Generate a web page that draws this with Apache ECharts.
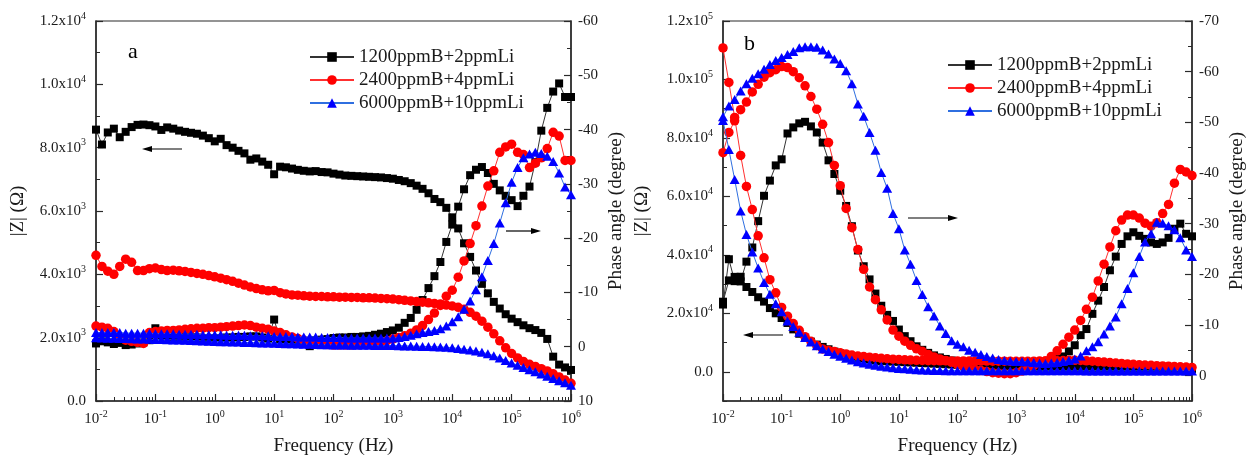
<!DOCTYPE html>
<html><head><meta charset="utf-8">
<script src="https://cdn.jsdelivr.net/npm/echarts@6/dist/echarts.min.js"></script>
<style>html,body{margin:0;padding:0;background:#fff}#c{width:1248px;height:461px}</style>
</head><body><div id="c"></div>
<script>
const freq = [
0.01,0.0126,0.0158,0.02,0.0251,0.0316,0.0398,0.0501,0.0631,0.0794,
0.1,0.126,0.158,0.2,0.251,0.316,0.398,0.501,0.631,0.794,
1,1.26,1.58,2,2.51,3.16,3.98,5.01,6.31,7.94,
10,12.6,15.8,20,25.1,31.6,39.8,50.1,63.1,79.4,
100,126,158,200,251,316,398,501,631,794,
1000,1260,1580,2000,2510,3160,3980,5010,6310,7940,
10000,12600,15800,20000,25100,31600,39800,50100,63100,79400,
100000,126000,158000,200000,251000,316000,398000,501000,631000,794000,
1000000];
const seriesNames = ['1200ppmB+2ppmLi','2400ppmB+4ppmLi','6000ppmB+10ppmLi'];

// Panel a
const zA_black = [8570,8100,8480,8600,8330,8500,8650,8720,8730,8710,
8670,8560,8640,8600,8540,8500,8470,8440,8380,8300,
8200,8280,8080,8000,7900,7820,7620,7660,7560,7460,
7160,7400,7380,7340,7300,7270,7250,7260,7230,7220,
7180,7150,7120,7110,7100,7090,7080,7070,7060,7040,
7020,6980,6940,6880,6800,6700,6560,6380,6280,6100,
5800,5450,4980,4550,4120,3700,3400,3130,2920,2740,
2600,2490,2390,2300,2240,2150,1960,1400,1150,1060,
980];
const pA_black = [-0.6,-1.0,-0.8,-0.5,-0.7,-0.3,-0.4,-0.6,-0.8,-1.2,
-3.4,-2.0,-1.9,-1.8,-1.8,-1.7,-1.7,-1.7,-1.6,-1.6,
-1.6,-1.6,-1.7,-1.7,-1.8,-1.8,-1.9,-1.9,-1.7,-1.5,
-5.0,-1.3,-1.2,-1.1,-1.0,-0.9,-0.1,-1.2,-1.3,-1.4,
-1.6,-1.7,-1.7,-1.8,-1.8,-1.9,-2.0,-2.2,-2.4,-2.7,
-3.0,-3.5,-4.4,-5.3,-6.8,-8.6,-10.8,-13.0,-15.6,-19.3,
-22.5,-25.8,-29.0,-31.6,-32.6,-33.1,-32.0,-30.0,-28.8,-27.8,
-27.0,-25.9,-27.8,-29.5,-34.0,-39.8,-44.0,-47.0,-48.5,-46.0,
-46.0];
const zA_red = [4600,4250,4100,4000,4250,4480,4380,4120,4120,4180,
4200,4150,4120,4130,4110,4090,4060,4030,4000,3960,
3920,3880,3830,3780,3720,3660,3600,3550,3510,3480,
3490,3420,3380,3350,3340,3320,3310,3300,3300,3290,
3290,3280,3280,3270,3270,3260,3260,3250,3240,3230,
3220,3200,3180,3160,3140,3120,3100,3080,3060,3030,
3000,2960,2900,2800,2680,2520,2330,2120,1900,1680,
1500,1360,1250,1160,1090,1020,950,860,760,660,
560];
const pA_red = [-3.8,-3.6,-3.4,-2.8,-1.6,-1.2,-1.0,-0.8,-0.6,-2.6,
-2.8,-2.9,-3.0,-3.0,-3.1,-3.2,-3.3,-3.4,-3.4,-3.5,
-3.5,-3.6,-3.7,-3.8,-3.9,-4.0,-3.9,-3.6,-3.4,-3.2,
-2.9,-2.6,-2.2,-1.8,-1.5,-1.2,-0.9,-0.7,-0.5,-0.4,
-0.3,-0.3,-0.3,-0.3,-0.4,-0.5,-0.6,-0.7,-0.9,-1.1,
-1.4,-1.7,-2.0,-2.5,-3.1,-3.9,-5.0,-6.2,-7.6,-9.3,
-10.4,-12.8,-15.8,-19.0,-22.3,-25.9,-29.6,-32.4,-35.8,-36.8,
-37.3,-35.8,-35.4,-33.0,-33.8,-34.8,-36.5,-39.5,-38.8,-34.3,
-34.3];
const zA_blue = [2000,1990,1985,1980,1975,1970,1965,1960,1955,1950,
1945,1940,1935,1930,1925,1920,1910,1905,1895,1890,
1880,1875,1870,1865,1860,1850,1845,1840,1835,1830,
1820,1815,1810,1805,1800,1795,1790,1785,1780,1775,
1770,1768,1766,1764,1762,1760,1758,1756,1754,1752,
1750,1745,1740,1735,1730,1725,1720,1715,1705,1695,
1680,1660,1635,1610,1580,1540,1490,1430,1360,1280,
1200,1130,1060,990,920,850,780,710,640,580,
500];
const pA_blue = [-2.6,-2.6,-2.6,-2.6,-2.6,-2.5,-2.5,-2.5,-2.5,-2.5,
-2.4,-2.4,-2.4,-2.4,-2.3,-2.3,-2.3,-2.3,-2.2,-2.2,
-2.2,-2.2,-2.1,-2.1,-2.1,-2.1,-2.0,-2.0,-2.0,-2.0,
-1.9,-1.9,-1.9,-1.9,-1.8,-1.8,-1.8,-1.8,-1.7,-1.7,
-1.7,-1.7,-1.6,-1.6,-1.6,-1.6,-1.6,-1.6,-1.6,-1.6,
-1.6,-1.7,-1.9,-2.1,-2.4,-2.6,-2.8,-3.0,-3.3,-3.8,
-4.6,-5.5,-6.9,-8.4,-10.5,-12.9,-15.9,-19.0,-22.8,-26.5,
-30.3,-33.0,-34.8,-35.5,-35.8,-35.6,-35.1,-34.1,-32.0,-29.4,
-28.0];

// Panel b
const zB_black = [23000,38500,31000,32500,29000,27300,25500,24000,21800,20000,
18400,16700,14500,13000,11600,10300,9300,8500,7700,6900,
6300,5600,5100,4700,4400,4100,3850,3700,3600,3500,
3400,3300,3200,3100,3000,2900,2800,2700,2600,2500,
2400,2300,2200,2100,2000,1950,1900,1850,1800,1750,
1700,1650,1600,1550,1500,1480,1460,1440,1420,1400,
1380,1360,1340,1320,1300,1280,1260,1240,1220,1200,
1180,1160,1140,1120,1100,1080,1060,1040,1020,1000,
980];
const pB_black = [-14.6,-18.8,-19.5,-18.6,-22.5,-25.3,-30.5,-35.5,-38.5,-41.5,
-42.7,-47.8,-49.0,-49.8,-50.1,-49.2,-48.0,-46.0,-42.5,-39.8,
-36.5,-33.5,-29.5,-24.7,-21.6,-19.0,-16.2,-13.8,-12.0,-10.8,
-9.1,-7.8,-6.8,-5.8,-5.1,-4.5,-4.0,-3.6,-3.3,-3.0,
-2.7,-2.4,-2.1,-1.9,-1.7,-1.5,-1.4,-1.2,-1.1,-1.0,
-1.0,-1.1,-1.2,-1.4,-1.7,-2.0,-2.6,-3.3,-3.8,-4.8,
-6.0,-8.0,-9.2,-12.2,-14.8,-17.5,-20.8,-23.5,-26.0,-27.5,
-28.3,-27.6,-27.0,-26.3,-26.0,-26.3,-27.2,-29.0,-30.0,-28.0,
-27.5];
const zB_red = [110800,99000,87000,74000,63400,55500,46500,39000,31500,27000,
22000,19000,16500,14200,12000,10400,9000,7800,7300,6900,
6500,6100,5700,5400,5200,5000,4800,4600,4450,4300,
4200,4100,4000,3900,3850,3800,3780,3760,3740,3720,
3700,3690,3680,3670,3660,3650,3640,3630,3620,3610,
3600,3600,3600,3620,3650,3700,3750,3800,3850,3900,
3900,3850,3750,3600,3450,3300,3150,3000,2850,2700,
2550,2400,2300,2200,2100,2000,1900,1800,1700,1600,
1500];
const pB_red = [-44.0,-48.0,-50.3,-52.5,-54.0,-56.0,-57.5,-58.9,-59.8,-60.4,
-61.0,-60.8,-60.0,-58.8,-57.2,-55.1,-52.6,-49.6,-46.0,-41.5,
-37.5,-33.0,-29.2,-24.9,-21.0,-17.5,-15.0,-13.0,-11.0,-9.0,
-7.8,-6.8,-6.0,-5.3,-4.8,-4.2,-3.7,-3.3,-3.0,-2.6,
-2.2,-1.8,-1.5,-1.2,-1.0,-0.8,-0.6,-0.5,-0.4,-0.4,
-0.6,-0.9,-1.4,-2.0,-2.5,-2.9,-3.8,-4.9,-6.2,-7.6,
-9.0,-10.9,-13.1,-15.5,-18.7,-22.0,-25.4,-28.6,-30.7,-31.7,
-31.7,-31.1,-30.1,-29.5,-30.2,-32.0,-33.8,-38.0,-40.7,-40.2,
-39.5];
const zB_blue = [86000,76000,65800,55000,47000,41000,35500,30500,26500,23300,
20500,17400,15500,13500,11700,10200,8900,7800,6900,6000,
5300,4600,4000,3450,3000,2600,2200,1900,1600,1350,
1150,1000,850,720,600,500,440,400,380,360,
350,345,340,340,335,335,330,330,330,325,
325,325,320,320,320,315,315,315,310,310,
310,310,305,305,305,300,300,300,300,300,
295,295,295,290,290,290,290,285,285,285,
280];
const pB_blue = [-51.1,-53.2,-54.5,-56.2,-57.6,-58.7,-59.6,-60.5,-61.4,-62.2,
-62.8,-63.4,-64.0,-64.7,-64.9,-64.9,-64.8,-64.3,-63.5,-62.5,
-61.6,-60.2,-57.6,-53.6,-51.2,-48.0,-44.5,-40.1,-37.0,-32.0,
-29.0,-24.8,-22.0,-18.8,-16.0,-13.6,-11.8,-9.8,-8.3,-6.9,
-6.2,-5.7,-5.0,-4.6,-4.2,-3.8,-3.5,-3.2,-3.0,-2.9,
-2.8,-2.8,-2.7,-2.6,-2.5,-2.4,-2.5,-2.6,-2.8,-3.0,
-3.3,-3.9,-4.9,-5.7,-6.7,-8.2,-9.8,-11.6,-14.2,-17.2,
-20.3,-23.5,-26.4,-28.0,-30.3,-30.1,-29.6,-28.8,-27.2,-24.8,
-23.5];

// Ticks and tick labels
const freqTicks = [0.01,0.1,1,10,100,1000,10000,100000,1000000];
const freqTickLabels = ['10^-2','10^-1','10^0','10^1','10^2','10^3','10^4','10^5','10^6'];
const zTicksA = [0,2000,4000,6000,8000,10000,12000];
const zTickLabelsA = ['0.0','2.0x10^3','4.0x10^3','6.0x10^3','8.0x10^3','1.0x10^4','1.2x10^4'];
const zMinorA = [1000,3000,5000,7000,9000,11000];
const phTicksA = [-60,-50,-40,-30,-20,-10,0,10];
const phTickLabelsA = ['-60','-50','-40','-30','-20','-10','0','10'];
const phMinorA = [-55,-45,-35,-25,-15,-5,5];
const zTicksB = [0,20000,40000,60000,80000,100000,120000];
const zTickLabelsB = ['0.0','2.0x10^4','4.0x10^4','6.0x10^4','8.0x10^4','1.0x10^5','1.2x10^5'];
const zMinorB = [-10000,10000,30000,50000,70000,90000,110000];
const phTicksB = [-70,-60,-50,-40,-30,-20,-10,0];
const phTickLabelsB = ['-70','-60','-50','-40','-30','-20','-10','0'];
const phMinorB = [-65,-55,-45,-35,-25,-15,-5];

const freqMinor = [];
for (let d = 0.01; d < 1e6; d *= 10) for (let m = 2; m <= 9; m++) freqMinor.push(+(m * d).toPrecision(3));

const FONT = 'Liberation Serif';
const TXT = '#1a1a1a';
const AX = '#2a2a2a';
const colors = ['#000000', '#ff0000', '#0000ff'];
const lineColors = ['#333333', '#ff3030', '#2f6fe0'];
const symbols = ['rect', 'circle', 'triangle'];
const symSizes = [8, 9.5, [10, 9]];

function rich(s) {
  const p = s.split('^');
  return p.length > 1 ? p[0] + '{sup|' + p[1] + '}' : s;
}
function fmt(ticks, labels) {
  return function (v) {
    for (let i = 0; i < ticks.length; i++) {
      const t = ticks[i];
      if (Math.abs(t - v) <= 1e-6 * Math.max(1e-9, Math.abs(t)) || Math.abs(t - v) < 1e-9) return rich(labels[i]);
    }
    return '';
  };
}
const richSup = { sup: { fontSize: 10, fontFamily: FONT, color: TXT, verticalAlign: 'top', lineHeight: 10 } };

function mainX(grid, name) {
  return {
    type: 'log', logBase: 10, gridIndex: grid, min: 0.01, max: 1e6, position: 'bottom',
    name: name, nameLocation: 'middle', nameGap: 36,
    nameTextStyle: { fontFamily: FONT, fontSize: 19, color: TXT },
    axisLine: { show: true, onZero: false, lineStyle: { color: AX, width: 1.5 } },
    axisTick: { show: true, inside: true, length: 7, customValues: freqTicks, lineStyle: { color: AX, width: 1.2 } },
    axisLabel: { show: true, customValues: freqTicks, formatter: fmt(freqTicks, freqTickLabels), margin: 8,
      fontFamily: FONT, fontSize: 15, color: TXT, lineHeight: 20, rich: richSup },
    splitLine: { show: false }, minorTick: { show: false }
  };
}
function minorX(grid) {
  return {
    type: 'log', logBase: 10, gridIndex: grid, min: 0.01, max: 1e6, position: 'bottom',
    axisLine: { show: false, onZero: false }, axisLabel: { show: false }, splitLine: { show: false },
    axisTick: { show: true, inside: true, length: 4, customValues: freqMinor, lineStyle: { color: AX, width: 1 } }
  };
}
function mainY(grid, pos, min, max, ticks, labels, name, inverse, gap) {
  return {
    type: 'value', gridIndex: grid, position: pos, min: min, max: max, inverse: inverse,
    name: name, nameLocation: 'middle', nameGap: gap,
    nameTextStyle: { fontFamily: FONT, fontSize: 19, color: TXT },
    axisLine: { show: true, onZero: false, lineStyle: { color: AX, width: 1.5 } },
    axisTick: { show: true, inside: true, length: 7, customValues: ticks, lineStyle: { color: AX, width: 1.2 } },
    axisLabel: { show: true, customValues: ticks, formatter: fmt(ticks, labels), margin: pos === 'left' ? 10 : 7,
      fontFamily: FONT, fontSize: 15, color: TXT, lineHeight: 20, rich: richSup },
    splitLine: { show: false }
  };
}
function minorY(grid, pos, min, max, ticks, inverse) {
  return {
    type: 'value', gridIndex: grid, position: pos, min: min, max: max, inverse: inverse,
    axisLine: { show: false, onZero: false }, axisLabel: { show: false }, splitLine: { show: false },
    axisTick: { show: true, inside: true, length: 4, customValues: ticks, lineStyle: { color: AX, width: 1 } }
  };
}
function mk(i, xi, yi, arr) {
  return {
    type: 'line', name: seriesNames[i], xAxisIndex: xi, yAxisIndex: yi,
    data: freq.map((f, k) => [f, arr[k]]),
    symbol: symbols[i], symbolSize: symSizes[i], showAllSymbol: true, showSymbol: true,
    itemStyle: { color: colors[i] },
    lineStyle: { color: lineColors[i], width: 1 },
    emphasis: { disabled: true }, animation: false, z: 2 + i
  };
}
function arrow(x1, x2, y) {
  const dir = x2 > x1 ? 1 : -1;
  return [
    { type: 'line', shape: { x1: x1, y1: y, x2: x2 - dir * 6, y2: y }, style: { stroke: '#000', lineWidth: 1.2 }, z: 100 },
    { type: 'polygon', shape: { points: [[x2, y], [x2 - dir * 10, y - 3], [x2 - dir * 10, y + 3]] }, style: { fill: '#000' }, z: 100 }
  ];
}

const chart = echarts.init(document.getElementById('c'), null, { renderer: 'canvas' });
const legendBase = {
  orient: 'vertical', align: 'left', data: seriesNames, itemWidth: 44, itemHeight: 12, itemGap: 1,
  textStyle: { fontFamily: FONT, fontSize: 19, color: TXT, lineHeight: 22 }, selectedMode: false
};
chart.setOption({
  animation: false,
  backgroundColor: '#fff',
  grid: [
    { left: 96, top: 21, width: 475, height: 382, show: true, borderColor: AX, borderWidth: 1.2, backgroundColor: 'transparent' },
    { left: 723, top: 21, width: 474, height: 382, show: true, borderColor: AX, borderWidth: 1.2, backgroundColor: 'transparent' }
  ],
  legend: [
    Object.assign({}, legendBase, { left: 304, top: 41 }),
    Object.assign({}, legendBase, { left: 942, top: 49 })
  ],
  xAxis: [mainX(0, 'Frequency (Hz)'), minorX(0), mainX(1, 'Frequency (Hz)'), minorX(1)],
  yAxis: [
    mainY(0, 'left', 0, 12000, zTicksA, zTickLabelsA, '|Z| (Ω)', false, 68),
    mainY(0, 'right', -60, 10, phTicksA, phTickLabelsA, 'Phase angle (degree)', true, 36),
    minorY(0, 'left', 0, 12000, zMinorA, false),
    minorY(0, 'right', -60, 10, phMinorA, true),
    mainY(1, 'left', -10000, 120000, zTicksB, zTickLabelsB, '|Z| (Ω)', false, 71),
    mainY(1, 'right', -70, 5, phTicksB, phTickLabelsB, 'Phase angle (degree)', true, 36),
    minorY(1, 'left', -10000, 120000, zMinorB, false),
    minorY(1, 'right', -70, 5, phMinorB, true)
  ],
  series: [
    mk(0, 0, 0, zA_black), mk(0, 0, 1, pA_black),
    mk(1, 0, 0, zA_red), mk(1, 0, 1, pA_red),
    mk(2, 0, 0, zA_blue), mk(2, 0, 1, pA_blue),
    mk(0, 2, 4, zB_black), mk(0, 2, 5, pB_black),
    mk(1, 2, 4, zB_red), mk(1, 2, 5, pB_red),
    mk(2, 2, 4, zB_blue), mk(2, 2, 5, pB_blue)
  ],
  graphic: [
    { type: 'text', left: 128, top: 41, style: { text: 'a', font: '22px "Liberation Serif"', fill: '#000' }, z: 100 },
    { type: 'text', left: 744, top: 33, style: { text: 'b', font: '22px "Liberation Serif"', fill: '#000' }, z: 100 }
  ].concat(arrow(182, 142, 149), arrow(506, 541, 231), arrow(908, 958, 218), arrow(783, 743, 335))
});
</script>
</body></html>
